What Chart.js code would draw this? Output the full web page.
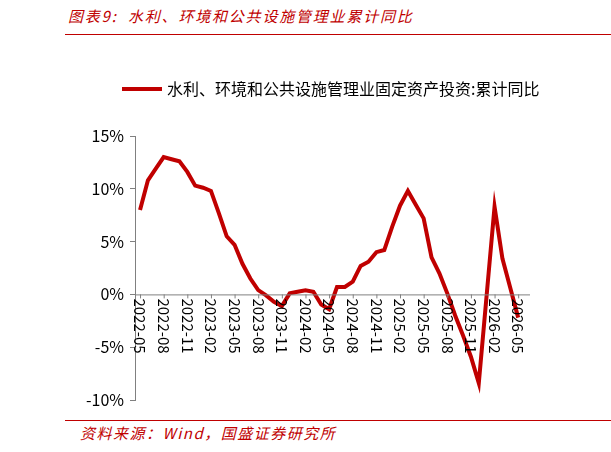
<!DOCTYPE html>
<html><head><meta charset="utf-8">
<script src="https://cdn.jsdelivr.net/npm/chart.js@4"></script>
<style>html,body{margin:0;padding:0;background:#fff}#w{position:relative;width:611px;height:452px}
.t{position:absolute;font-family:"Noto Sans CJK SC";font-style:italic;color:#c00000;font-size:15px}
</style></head><body><div id="w">
<div class="t" style="left:68px;top:5px;letter-spacing:1.8px">图表9:&nbsp; 水利、环境和公共设施管理业累计同比</div>
<div style="position:absolute;left:65px;right:0;top:34px;height:1px;background:#c00000"></div>
<div style="position:absolute;left:65px;right:0;top:420px;height:1px;background:#c00000"></div>
<div class="t" style="left:80px;top:422px;letter-spacing:1.5px">资料来源：Wind，国盛证券研究所</div>
<canvas id="c" width="611" height="452" style="position:absolute;left:0;top:0"></canvas>
</div>
<script>
const months = ["2022-05","2022-06","2022-07","2022-08","2022-09","2022-10","2022-11","2022-12",
"2023-01","2023-02","2023-03","2023-04","2023-05","2023-06","2023-07","2023-08","2023-09","2023-10","2023-11","2023-12",
"2024-01","2024-02","2024-03","2024-04","2024-05","2024-06","2024-07","2024-08","2024-09","2024-10","2024-11","2024-12",
"2025-01","2025-02","2025-03","2025-04","2025-05","2025-06","2025-07","2025-08","2025-09","2025-10","2025-11","2025-12",
"2026-01","2026-02","2026-03","2026-04","2026-05"];
const values = [8.0,10.8,11.9,13.0,12.8,12.6,11.6,10.3,
10.1,9.8,7.7,5.5,4.7,2.9,1.5,0.4,-0.1,-0.7,-1.1,0.1,
0.25,0.4,0.25,-0.95,-1.4,0.7,0.7,1.2,2.7,3.1,4.0,4.2,
6.4,8.4,9.8,8.5,7.2,3.5,2.0,0.1,-2.0,-3.9,-5.9,-8.4,
null,8.3,3.4,0.6,-2.2];
const tickLabels = ["2022-05","2022-08","2022-11","2023-02","2023-05","2023-08","2023-11","2024-02","2024-05","2024-08","2024-11","2025-02","2025-05","2025-08","2025-11","2026-02","2026-05"];
const seriesName = "水利、环境和公共设施管理业固定资产投资:累计同比";
const FONT = "Noto Sans CJK SC";

const xLabelPlugin = {
  id:'xl',
  afterDraw(chart){
    const ctx=chart.ctx, xs=chart.scales.x, ys=chart.scales.y;
    const y0=ys.getPixelForValue(0);
    ctx.save();
    ctx.strokeStyle='#808080';ctx.lineWidth=1;
    ctx.beginPath();ctx.moveTo(chart.chartArea.left,y0+0.5);ctx.lineTo(chart.chartArea.right,y0+0.5);ctx.stroke();
    ctx.fillStyle='#000';ctx.font='15px "'+FONT+'"';ctx.textBaseline='middle';
    tickLabels.forEach(l=>{
      const i=months.indexOf(l);const x=xs.getPixelForValue(i);
      ctx.beginPath();ctx.moveTo(x+0.5,y0);ctx.lineTo(x+0.5,y0+4);ctx.stroke();
      ctx.save();ctx.translate(x,y0+4);ctx.rotate(Math.PI/2);ctx.textAlign='left';ctx.fillText(l,0,0);ctx.restore();
    });
    ctx.strokeStyle='#c00000';ctx.lineWidth=4;ctx.beginPath();ctx.moveTo(122,89);ctx.lineTo(162,89);ctx.stroke();
    ctx.font='16px "'+FONT+'"';ctx.fillText(seriesName,167,89);
    ctx.restore();
  }
};

new Chart(document.getElementById('c'),{
  type:'line',
  data:{labels:months.map((m,i)=>i),datasets:[{label:seriesName,data:values.map((v,i)=>({x:i,y:v})),borderColor:'#c00000',borderWidth:4,pointRadius:0,spanGaps:true,tension:0}]},
  options:{responsive:false,animation:false,
    layout:{padding:{left:0,right:81,top:136,bottom:52}},
    plugins:{legend:{display:false},tooltip:{enabled:false}},
    scales:{
      x:{type:'linear',min:-0.64,max:49.5,display:false},
      y:{min:-10,max:15,afterFit(s){s.width=135;},
        ticks:{stepSize:5,callback:v=>v+'%',color:'#000',font:{family:FONT,size:16},padding:6},
        grid:{display:true,drawOnChartArea:false,tickLength:5,color:'#808080'},
        border:{color:'#808080'}}
    }
  },
  plugins:[xLabelPlugin]
});
</script></body></html>
